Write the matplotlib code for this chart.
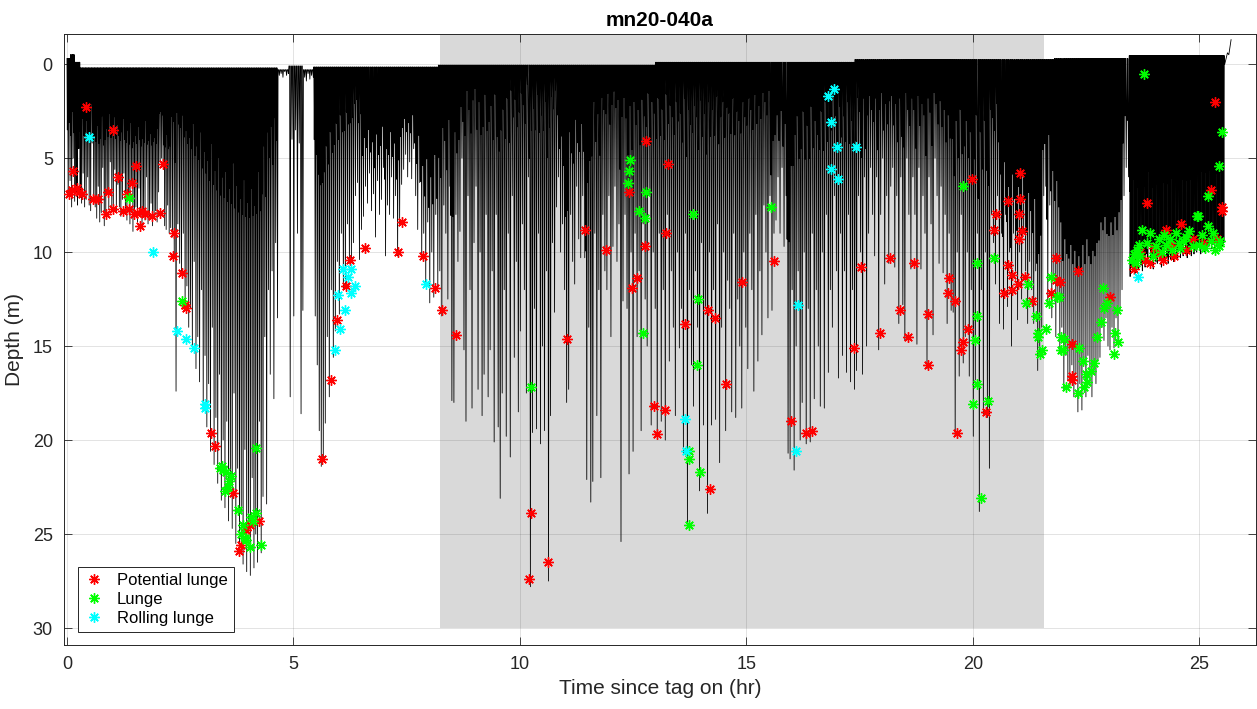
import numpy as np
import matplotlib
matplotlib.use('Agg')
import matplotlib.pyplot as plt

plt.rcParams['font.family'] = ['Liberation Sans', 'DejaVu Sans']

title = 'mn20-040a'
x_label = 'Time since tag on (hr)'
y_label = 'Depth (m)'
legend_labels = ['Potential lunge', 'Lunge', 'Rolling lunge']

# shaded (night) period, hr
shade_start = 8.23
shade_end = 21.56

# dive bouts: start/end time (hr), surface level (m), max depth of each dive (m)
bout_start = [0.00, 0.08, 0.18, 0.30, 2.30, 4.66, 4.90, 5.22, 5.45, 8.20, 13.00, 17.40, 21.80, 23.35, 23.45]
bout_end = [0.08, 0.18, 0.30, 2.30, 4.66, 4.90, 5.22, 5.45, 8.20, 13.00, 17.40, 21.80, 23.35, 23.45, 25.55]
bout_surface = [-0.3, -0.5, -0.1, 0.2, 0.2, 0.3, 0.1, 0.3, 0.15, 0.05, -0.1, -0.25, -0.3, -0.3, -0.45]
bout_depths = [
    [7.0, 6.2],
    [7.6, 5.0, 7.3],
    [6.8, 7.5, 4.5, 7.1],
    [7.4, 5.8, 7.6, 7.2, 6.0, 7.5, 7.8, 4.2, 7.3, 7.6,
     8.2, 6.5, 8.4, 7.9, 5.5, 8.6, 8.0, 6.8, 7.7, 5.2,
     7.8, 7.5, 5.6, 7.9, 6.4, 7.6, 8.1, 7.2, 5.8, 8.0,
     8.3, 7.0, 8.5, 6.2, 8.9, 8.2, 7.6, 8.4, 6.6, 8.0,
     8.7, 7.9, 8.3, 6.0, 8.5, 8.1, 7.4, 8.6, 8.2, 7.8,
     8.4, 6.8, 5.2, 5.0, 5.4, 8.6, 8.8, 7.5, 9.0, 8.7],
    [9.2, 10.1, 17.4, 8.5, 10.6, 11.2, 9.0, 12.9, 11.8, 14.0,
     13.0, 15.0, 10.5, 16.2, 14.5, 16.9, 12.0, 18.4, 15.5, 19.3,
     17.0, 20.6, 14.0, 21.3, 18.8, 22.3, 16.5, 23.2, 20.0, 23.6,
     19.0, 24.3, 22.0, 24.7, 17.5, 25.5, 21.5, 26.2, 23.8, 26.6,
     20.5, 27.0, 24.5, 27.2, 22.0, 26.8, 25.0, 26.5, 19.0, 26.0,
     23.0, 14.5, 23.4, 12.0, 16.5, 11.0, 17.8, 9.5, 13.5],
    [0.6, 0.5, 0.7, 0.4, 0.6, 0.5],
    [17.7, 4.0, 13.4, 3.5, 9.0, 4.2, 18.6, 13.1],
    [0.7, 0.9, 0.5, 0.8, 0.6, 0.7],
    [13.4, 16.0, 19.5, 21.4, 21.0, 19.1, 14.5, 17.7, 12.0, 15.6,
     14.2, 10.5, 13.3, 9.0, 12.0, 11.7, 8.5, 10.6, 10.4, 9.5,
     7.0, 6.3, 10.4, 8.8, 8.1, 6.5, 7.4, 5.8, 7.8, 6.9,
     9.2, 6.2, 8.0, 7.2, 5.5, 10.2, 7.5, 8.0, 6.0, 8.2,
     7.0, 10.2, 8.5, 6.4, 5.6, 4.8, 6.0, 5.2, 6.1, 4.5,
     7.0, 8.8, 6.3, 10.4, 9.0, 11.7, 8.4, 12.7, 10.0, 12.4,
     8.0, 11.9],
    [11.0, 13.4, 7.5, 9.0, 12.5, 6.5, 17.9, 18.0, 8.0,
     10.5, 8.9, 5.0, 15.2, 19.0, 7.0, 12.0, 18.3, 9.5,
     6.5, 17.3, 10.0, 18.7, 16.5, 8.0, 17.7, 15.2, 11.0,
     20.1, 8.0, 19.3, 23.1, 17.5, 12.0, 19.8, 9.0, 20.9,
     7.0, 15.6, 10.5, 18.5, 14.2, 8.5, 12.0, 17.5, 6.0,
     27.8, 19.6, 13.0, 19.4, 9.0, 20.2, 15.0, 19.5, 11.0,
     27.5, 18.7, 9.5, 13.2, 7.6, 6.0, 10.0, 8.5, 12.0,
     18.0, 17.3, 8.0, 10.5, 11.7, 6.5, 9.3, 10.3, 7.0,
     10.3, 22.1, 14.0, 23.3, 22.2, 9.0, 18.7, 12.0, 22.0,
     8.0, 11.0, 12.0, 7.0, 14.5, 9.7, 6.5, 10.5, 8.5,
     25.4, 12.6, 8.0, 13.0, 21.8, 10.0, 20.6, 9.0, 14.5,
     11.0, 19.5, 8.5, 12.5, 15.0, 7.0, 19.2, 10.0, 13.0],
    [19.8, 9.0, 19.0, 12.0, 20.0, 8.0, 15.8, 11.0, 14.0,
     18.7, 10.0, 15.1, 13.0, 20.7, 9.0, 24.6, 12.0, 16.0,
     18.2, 11.0, 14.0, 22.7, 9.5, 19.2, 13.0, 23.9, 10.0,
     19.2, 12.0, 18.9, 8.5, 21.2, 14.0, 10.0, 19.5, 11.5,
     13.0, 18.5, 9.0, 18.8, 12.5, 15.0, 18.3, 10.0, 14.0,
     16.2, 9.0, 12.0, 17.4, 8.0, 15.8, 11.0, 14.4, 7.5,
     10.0, 13.5, 7.0, 13.1, 9.0, 8.3, 6.0, 9.0, 5.5,
     9.7, 7.0, 20.7, 21.0, 12.0, 21.6, 15.0, 11.0, 20.0,
     18.0, 10.0, 20.2, 13.0, 20.1, 9.0, 17.8, 12.0, 15.0,
     18.2, 10.0, 18.3, 8.0, 16.4, 12.0, 14.0, 7.0, 11.0,
     16.7, 9.0, 15.5, 11.0, 16.4, 8.0, 16.9, 12.0, 17.3],
    [16.3, 7.0, 10.0, 16.5, 6.0, 15.0, 9.0, 5.5, 8.0,
     10.2, 6.0, 15.2, 8.0, 5.0, 11.7, 7.0, 10.6, 6.5,
     5.5, 10.8, 7.0, 13.8, 6.0, 12.8, 14.7, 5.0, 8.0,
     10.9, 6.0, 8.0, 14.9, 5.5, 10.9, 7.0, 9.0, 16.2,
     6.0, 8.5, 14.4, 5.0, 7.0, 10.6, 6.5, 11.1, 8.0,
     13.8, 9.0, 13.1, 13.2, 19.8, 10.0, 16.6, 8.0, 15.9,
     14.5, 10.0, 16.6, 12.0, 19.8, 16.8, 9.0, 23.8, 12.0,
     18.6, 10.0, 18.8, 21.5, 8.0, 9.5, 11.7, 7.0, 13.8,
     9.0, 14.1, 8.0, 12.9, 10.0, 15.0, 9.0, 11.0, 13.6,
     10.0, 12.5, 9.0, 11.0, 13.8, 10.5, 12.0, 13.8, 11.0,
     16.3, 15.5, 14.0, 7.0, 6.5, 12.7, 7.5, 13.5, 11.3],
    [14.5, 12.4, 15.2, 14.0, 17.4, 15.5, 16.8, 17.2, 16.0,
     17.7, 16.5, 18.5, 17.0, 18.4, 16.0, 17.7, 15.5, 17.0,
     17.7, 16.5, 17.0, 15.8, 15.6, 14.0, 14.7, 13.5, 15.0,
     15.2, 14.0, 15.1, 13.5, 14.7, 13.1, 12.0, 7.0],
    [5.5, 6.0],
    [11.3, 10.8, 11.0, 10.2, 11.2, 10.5, 10.9, 9.8, 10.7, 11.0,
     10.4, 10.8, 10.1, 10.6, 9.5, 10.7, 10.3, 10.9, 10.0, 10.5,
     10.6, 9.9, 10.4, 10.8, 10.2, 10.5, 9.6, 10.3, 10.6, 10.0,
     10.4, 10.1, 10.5, 9.7, 10.2, 10.4, 9.9, 10.3, 10.0, 10.2,
     9.5, 10.1, 10.3, 9.8, 10.0, 10.2, 9.6, 10.1, 9.9, 10.0,
     9.7, 9.9, 10.1, 9.5, 9.8, 10.0, 9.6, 9.9, 9.7, 9.4,
     9.8, 9.6, 9.9, 9.5, 9.7, 9.8, 9.4, 9.6, 9.7, 9.5],
]

# breathing dip before each dive, as a share of that dive's depth (black band under the surface)
band_edges = [0.0, 2.3, 4.66, 5.45, 6.5, 8.2, 8.7, 9.8, 10.8, 11.5, 12.9,
              15.5, 16.0, 17.5, 19.5, 20.6, 21.65, 21.9, 23.35, 23.45, 25.6]
band_fraction = [0.5, 0.3, 0.0, 0.3, 0.6, 0.45, 0.2, 0.18, 0.45, 0.22, 0.2,
                 0.45, 0.25, 0.3, 0.3, 0.65, 0.5, 0.6, 0.5, 0.6]

# final ascent of the record
end_t = [25.56, 25.59, 25.62, 25.65, 25.68, 25.70]
end_d = [0.0, -0.3, -0.6, -0.5, -1.0, -1.3]

# detections (time hr, depth m)
potential_lunge = np.array([
    [0.05, 6.9], [0.12, 6.7], [0.13, 5.7], [0.22, 6.6], [0.27, 6.8], [0.33, 6.9],
    [0.42, 2.3], [0.58, 7.2], [0.69, 7.2], [0.86, 8.0], [0.91, 6.8], [1.01, 7.7],
    [1.02, 3.5], [1.13, 6.0], [1.24, 7.8], [1.32, 6.9], [1.36, 7.7], [1.44, 6.3],
    [1.48, 8.0], [1.52, 5.4], [1.55, 7.9], [1.61, 8.6], [1.65, 7.8], [1.72, 8.0],
    [1.87, 8.1], [2.05, 7.9], [2.12, 5.3], [2.33, 10.2], [2.37, 9.0], [2.55, 11.1],
    [2.61, 12.8], [2.63, 13.0], [3.18, 19.6], [3.26, 20.3], [3.66, 22.8], [3.80, 25.9],
    [3.84, 25.6], [3.95, 24.8], [4.03, 24.5], [4.25, 24.3], [5.63, 21.0], [5.83, 16.8],
    [5.96, 13.6], [6.16, 11.8], [6.25, 10.4], [6.57, 9.8], [7.30, 10.0], [7.40, 8.4],
    [7.85, 10.2], [8.13, 11.9], [8.28, 13.1], [8.58, 14.4],
    [10.24, 23.9], [10.21, 27.4], [10.61, 26.5], [11.03, 14.6], [11.44, 8.8],
    [11.90, 9.9], [12.40, 6.8], [12.47, 11.9], [12.58, 11.4], [12.79, 4.1],
    [12.77, 9.7], [13.26, 5.3], [13.22, 9.0], [14.90, 11.6], [15.61, 10.5],
    [13.64, 13.8], [14.16, 13.1], [14.31, 13.5], [14.54, 17.0], [12.95, 18.2],
    [13.20, 18.4], [13.02, 19.7], [14.20, 22.6], [15.99, 19.0], [16.31, 19.6],
    [16.44, 19.5], [17.38, 15.1],
    [17.54, 10.8], [17.94, 14.3], [18.16, 10.3], [18.40, 13.1], [18.56, 14.5],
    [18.69, 10.6], [19.01, 13.3], [19.00, 16.0], [19.48, 11.4], [19.44, 12.2],
    [19.60, 12.6], [19.66, 19.6], [19.90, 14.1], [19.79, 14.8], [19.73, 15.2],
    [19.98, 6.1], [20.30, 18.5], [20.50, 8.0], [20.46, 8.8], [20.77, 7.3],
    [21.04, 5.8], [21.04, 7.2], [21.02, 8.0], [21.08, 8.9], [21.02, 9.3],
    [20.77, 10.7], [20.86, 11.2], [20.69, 12.2], [20.87, 12.0], [21.00, 11.7],
    [21.15, 11.3], [21.30, 12.6], [21.83, 10.3], [21.83, 11.5], [21.92, 11.6],
    [21.73, 12.2], [22.31, 11.0], [22.18, 14.9], [22.19, 16.6], [22.19, 16.8],
    [23.02, 12.4], [23.56, 10.9], [23.81, 10.4], [23.84, 7.4], [25.51, 7.6],
    [25.49, 7.8], [25.40, 9.3], [24.59, 8.5], [24.26, 8.8], [24.11, 10.1],
    [24.85, 9.3], [24.37, 9.6], [25.34, 2.0], [25.25, 6.7], [23.70, 10.0],
    [24.00, 9.8], [24.45, 10.2], [24.70, 9.9], [25.10, 9.5], [23.90, 10.6],
    [24.20, 10.4],
])
lunge = np.array([
    [1.38, 7.1], [2.55, 12.6], [3.37, 21.5], [3.44, 21.6], [3.51, 21.7], [3.62, 21.9],
    [3.55, 22.5], [3.48, 22.7], [3.77, 23.7], [3.88, 24.5], [3.84, 25.0], [3.95, 25.3],
    [4.06, 24.1], [4.17, 23.9], [4.17, 20.4], [4.28, 25.6], [4.03, 25.7], [3.92, 25.2],
    [4.10, 24.3], [3.42, 21.4], [3.58, 22.2],
    [10.24, 17.2], [12.42, 5.1], [12.41, 5.7], [12.39, 6.3], [12.62, 7.8], [12.77, 8.2],
    [12.78, 6.8], [12.71, 14.3], [13.82, 8.0], [15.55, 7.6], [13.93, 12.5], [13.90, 16.0],
    [13.73, 20.6], [13.74, 21.0], [13.97, 21.7], [13.74, 24.5],
    [19.79, 6.5], [20.08, 10.6], [20.46, 10.3], [20.08, 13.4], [20.04, 14.7],
    [20.08, 17.0], [20.01, 18.1], [20.34, 17.9], [20.18, 23.1],
    [21.22, 11.7], [21.17, 12.7], [21.39, 13.4], [21.43, 14.5], [21.52, 15.2],
    [21.61, 14.1], [21.69, 12.7], [21.73, 11.3], [21.91, 12.4], [22.02, 14.6],
    [21.99, 15.2], [22.06, 17.2], [21.44, 14.3], [21.49, 15.4], [21.86, 12.4],
    [21.94, 14.5], [21.94, 15.2], [22.34, 15.1], [22.42, 15.8], [22.49, 16.5],
    [22.53, 16.9], [22.33, 17.5], [22.67, 15.9], [22.74, 14.5], [22.82, 13.7],
    [22.87, 11.9], [22.96, 12.7], [23.14, 14.3], [23.12, 15.4], [23.18, 13.1],
    [22.60, 16.3], [22.45, 17.2], [22.90, 13.0], [23.20, 14.8],
    [23.56, 10.1], [23.67, 9.6], [23.74, 8.8], [23.92, 9.0], [24.04, 9.7],
    [24.26, 9.6], [24.48, 9.0], [24.63, 9.4], [24.78, 8.9], [24.96, 8.1],
    [25.00, 9.6], [25.18, 8.6], [25.29, 9.0], [25.43, 9.7], [23.52, 10.4],
    [23.63, 9.9], [23.78, 0.5], [25.51, 3.6], [25.43, 5.4], [25.19, 7.0],
    [24.94, 8.1], [23.60, 10.6], [23.70, 10.2], [23.85, 9.5], [23.98, 10.2],
    [24.10, 9.3], [24.18, 10.0], [24.35, 9.3], [24.40, 9.9], [24.55, 9.5],
    [24.70, 9.2], [24.85, 9.7], [25.05, 9.1], [25.12, 9.8], [25.25, 9.4],
    [25.35, 9.9], [25.45, 9.4], [24.58, 9.8], [24.22, 9.1],
])
rolling_lunge = np.array([
    [0.48, 3.9], [1.89, 10.0], [2.43, 14.2], [2.62, 14.6], [2.80, 15.1], [3.04, 18.1],
    [3.04, 18.3], [5.91, 15.2], [6.03, 14.1], [6.13, 13.1], [5.99, 12.3], [6.27, 12.2],
    [6.35, 11.8], [6.20, 11.3], [6.09, 10.9], [6.27, 10.9], [7.93, 11.7], [13.65, 18.9],
    [13.66, 20.6], [16.14, 12.8], [16.10, 20.6], [16.94, 1.3], [16.80, 1.7], [16.86, 3.1],
    [17.00, 4.4], [17.42, 4.4], [16.86, 5.6], [17.03, 6.1], [23.65, 11.3],
])


def build_trace():
    trace_t, trace_d = [], []
    for t0, t1, surf, depths in zip(bout_start, bout_end, bout_surface, bout_depths):
        edges = np.linspace(t0, t1, len(depths) + 1)
        for a, b, d in zip(edges[:-1], edges[1:], depths):
            w = b - a
            k = min(np.searchsorted(band_edges, a, side='right') - 1, len(band_fraction) - 1)
            dip = max(band_fraction[k] * d, surf)
            trace_t += [a, a + 0.2 * w, a + 0.4 * w, a + 0.7 * w]
            trace_d += [surf, dip, surf, d]
    trace_t.append(bout_end[-1])
    trace_d.append(bout_surface[-1])
    return trace_t + end_t, trace_d + end_d


fig = plt.figure(figsize=(12.57, 7.09), dpi=100)
ax = fig.add_axes([0.0509, 0.0903, 0.9483, 0.8617])

ax.fill_between([shade_start, shade_end], -5, 30, color='#d9d9d9', lw=0, zorder=0.2)

trace_t, trace_d = build_trace()
ax.plot(trace_t, trace_d, color='k', lw=0.6, zorder=2)

star = (8, 2, 0)
for data, col, lab in zip([potential_lunge, lunge, rolling_lunge],
                          ['#ff0000', '#00ff00', '#00ffff'], legend_labels):
    ax.plot(data[:, 0], data[:, 1], linestyle='none', marker=star, ms=7.5, mew=1.0,
            mec=col, mfc=col, label=lab, zorder=3)

ax.set_xlim(-0.066, 26.25)
ax.set_ylim(30.9, -1.6)
ax.set_xticks(range(0, 26, 5))
ax.set_yticks(range(0, 31, 5))
ax.grid(True, color='#262626', alpha=0.15, lw=0.6)
ax.set_axisbelow(True)
ax.tick_params(direction='in', top=True, right=True, length=6, width=0.6,
               labelsize=13, colors='#262626', pad=8)
for sp in ax.spines.values():
    sp.set_color('#262626')
    sp.set_linewidth(0.7)

ax.set_xlabel(x_label, fontsize=15, color='#262626', labelpad=4)
ax.set_ylabel(y_label, fontsize=15, color='#262626', labelpad=6)
ax.set_title(title, fontsize=15, fontweight='bold', color='#000000', pad=6)

leg = ax.legend(loc='lower left', bbox_to_anchor=(0.0117, 0.021), borderaxespad=0,
                fontsize=12, fancybox=False, framealpha=1, edgecolor='#262626',
                handlelength=1.2, handletextpad=0.8, labelspacing=0.25, borderpad=0.35)
leg.get_frame().set_linewidth(0.7)

fig.savefig('out.png', dpi=100)
